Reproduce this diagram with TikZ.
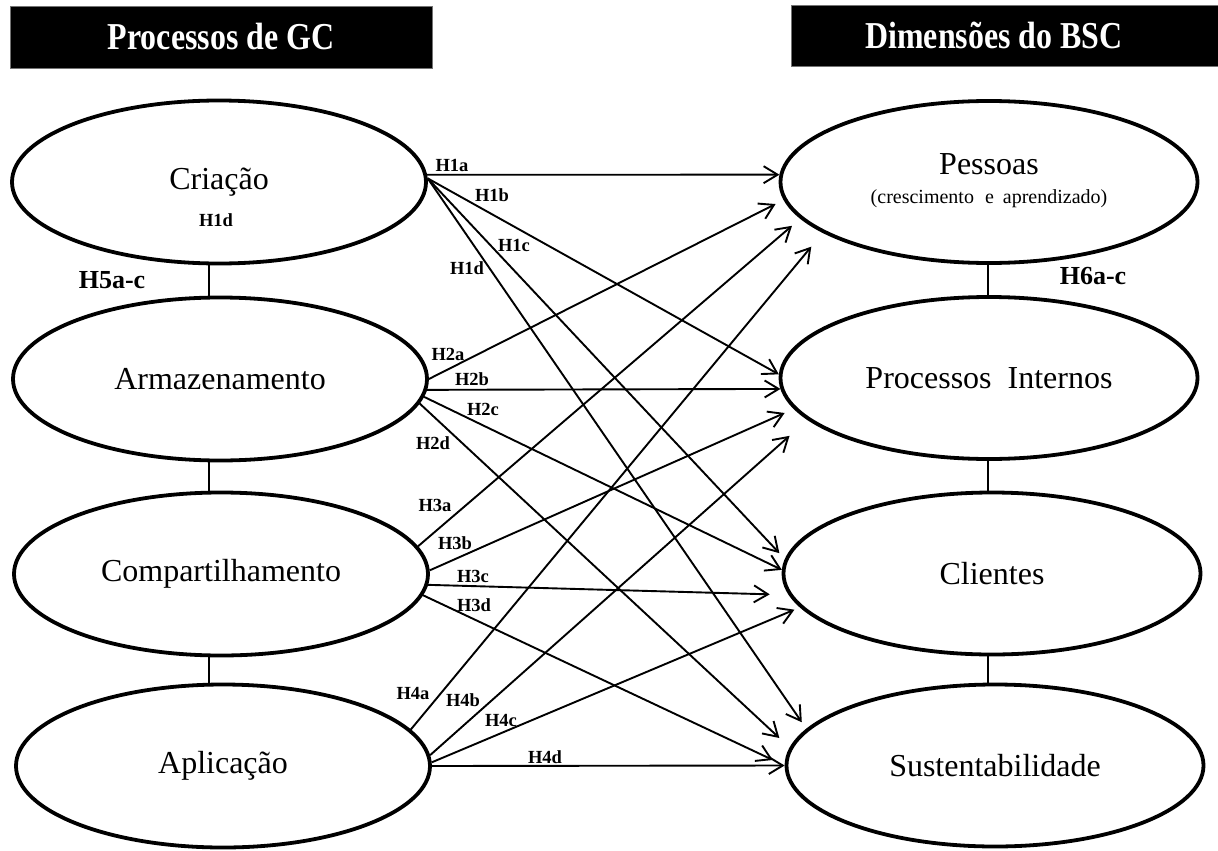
\documentclass[tikz,border=0pt]{standalone}
\usepackage{fontspec}
\setmainfont{Liberation Serif}
\usetikzlibrary{shapes.geometric,arrows.meta}
\begin{document}
\begin{tikzpicture}[x=1pt,y=-1pt,
  proc/.style={ellipse, draw, line width=3.8pt, minimum width=414pt, minimum height=163pt,
    inner sep=0pt, font=\fontsize{32}{36}\selectfont},
  dim/.style={proc, minimum width=417pt, minimum height=162pt},
  hdr/.style={fill=black, draw=black!55, line width=0.8pt, text=white,
    font=\fontsize{38}{40}\selectfont\bfseries, inner sep=0pt},
  hyp/.style={line width=1.9pt, -{Straight Barb[length=14pt,width=17pt]}},
  link/.style={line width=1.9pt},
  hl/.style={font=\fontsize{18.5}{20}\selectfont\bfseries, inner sep=0pt},
  hg/.style={font=\fontsize{26}{28}\selectfont\bfseries, inner sep=0pt},
]
\useasboundingbox (0,0) rectangle (1218,851);

% column headers
\node[hdr, minimum width=422pt, minimum height=62pt] (hgc) at (221,37)
  {\scalebox{0.84}[1]{Processos de GC}};
\node[hdr, minimum width=428pt, minimum height=61pt] (hbsc) at (1005,35.5)
  {\scalebox{0.84}[1]{Dimensões do BSC}\hspace*{22pt}};

% knowledge management processes
\node[proc] (cri) at (219,182) {Criação};
\node[proc] (arm) at (220,379) {Armazenamento};
\node[proc] (com) at (221,574) {Compartilhamento};
\node[proc] (apl) at (223,766) {Aplicação};

% BSC dimensions
\node[dim] (pes) at (989,182)
  {\raisebox{-2pt}{\begin{tabular}{@{}c@{}}Pessoas\\[-7pt]{\fontsize{20}{22}\selectfont(crescimento\hspace{0.3em} e\hspace{0.2em} aprendizado)}\end{tabular}}};
\node[dim] (pin) at (989,378) {Processos\hspace{0.5em}Internos};
\node[dim] (cli) at (992,573.5) {Clientes};
\node[dim] (sus) at (995,765.5) {Sustentabilidade};

% links inside each column
\coordinate (lc) at (209,0);
\coordinate (rc) at (988,0);
\draw[link] (cri.south -| lc) -- (arm.north -| lc);
\draw[link] (arm.south -| lc) -- (com.north -| lc);
\draw[link] (com.south -| lc) -- (apl.north -| lc);
\draw[link] (pes.south -| rc) -- (pin.north -| rc);
\draw[link] (pin.south -| rc) -- (cli.north -| rc);
\draw[link] (cli.south -| rc) -- (sus.north -| rc);

% hypotheses H1
\draw[hyp] (cri.2.2) -- (pes.178.1);
\draw[hyp] (cri.1.1) -- (pin.179.2);
\draw[hyp, shorten >=8pt] (cri.1.1) -- (cli.176);
\draw[hyp, shorten >=8pt] (cri.1.1) -- (sus.169.1);
% hypotheses H2
\draw[hyp, shorten >=9pt] (arm.0.5) -- (pes.185.9);
\draw[hyp] (arm.-3.6) -- (pin.183.8);
\draw[hyp] (arm.-5.8) -- (cli.179.9);
\draw[hyp, shorten >=14pt] (arm.-7.9) -- (sus.175);
% hypotheses H3
\draw[hyp, shorten >=11pt] (com.8.8) -- (pes.191.8);
\draw[hyp, shorten >=10pt] (com.1.9) -- (pin.189);
\draw[hyp, shorten >=19pt] (com.-3.8) -- (cli.186.8);
\draw[hyp, shorten >=13pt] (com.-6.6) -- (sus.180);
% hypotheses H4
\draw[hyp, shorten >=18pt] (apl.11.8) -- (pes.197.3);
\draw[hyp, shorten >=24pt] (apl.3.9) -- (pin.193);
\draw[hyp, shorten >=6pt] (apl.1.1) -- (cli.190.1);
\draw[hyp] (apl.-0.3) -- (sus.180.4);

% hypothesis labels
\node[hl] (l1a) at (452,165) {H1a};
\node[hl] (l1b) at (492,195) {H1b};
\node[hl] (l1c) at (514,245) {H1c};
\node[hl] (l1d) at (467,268) {H1d};
\node[hl] (l1e) at (216,220) {H1d};
\node[hl] (l2a) at (448,354) {H2a};
\node[hl] (l2b) at (472,379) {H2b};
\node[hl] (l2c) at (483,409) {H2c};
\node[hl] (l2d) at (433,443) {H2d};
\node[hl] (l3a) at (435,505) {H3a};
\node[hl] (l3b) at (455,543) {H3b};
\node[hl] (l3c) at (473,576) {H3c};
\node[hl] (l3d) at (474,605) {H3d};
\node[hl] (l4a) at (413,693) {H4a};
\node[hl] (l4b) at (463,700) {H4b};
\node[hl] (l4c) at (501,720) {H4c};
\node[hl] (l4d) at (545,757) {H4d};
\node[hg] (h5) at (112,280) {H5a-c};
\node[hg] (h6) at (1093,276) {H6a-c};
\end{tikzpicture}
\end{document}
